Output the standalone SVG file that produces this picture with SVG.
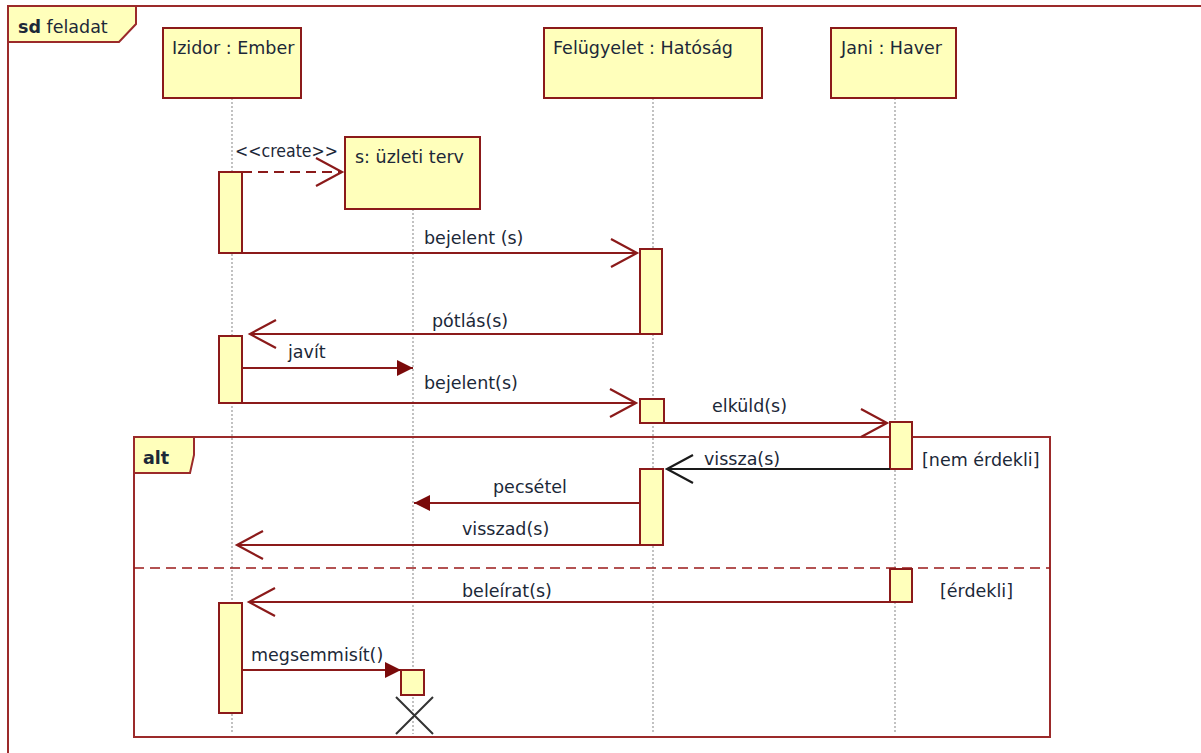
<svg xmlns="http://www.w3.org/2000/svg" width="1201" height="753" viewBox="0 0 1201 753">
<defs>
<style>
text{font-family:"DejaVu Sans","Liberation Sans",sans-serif;font-size:17.5px;fill:#1c2838}
.box{fill:#ffffbb;stroke:#8b1a1a;stroke-width:2}
.act{fill:#ffffbb;stroke:#8b1a1a;stroke-width:2}
.life{stroke:#999;stroke-width:1.2;stroke-dasharray:2,2;fill:none}
.msg{stroke:#8b1a1a;stroke-width:2;fill:none}
.frame{stroke:#9b2a2a;stroke-width:2;fill:none}
</style>
<marker id="open" viewBox="0 0 30 30" refX="27" refY="15" markerWidth="30" markerHeight="30" markerUnits="userSpaceOnUse" orient="auto">
<path d="M1,1 L27,15 L1,29" fill="none" stroke="#8b1a1a" stroke-width="2.2"/>
</marker>
<marker id="openk" viewBox="0 0 30 30" refX="27" refY="15" markerWidth="30" markerHeight="30" markerUnits="userSpaceOnUse" orient="auto">
<path d="M1,1 L27,15 L1,29" fill="none" stroke="#1a1a1a" stroke-width="2.2"/>
</marker>
<marker id="fill" viewBox="0 0 16 16" refX="16" refY="8" markerWidth="16" markerHeight="16" markerUnits="userSpaceOnUse" orient="auto">
<path d="M0,0 L16,8 L0,16 Z" fill="#7a0a0a"/>
</marker>
</defs>
<rect width="1201" height="753" fill="#fff"/>

<g id="frame">
<path class="frame" d="M8,753 L8,6 L1201,6"/>
<path d="M8,6 L136,6 L136,24 L119,42 L8,42 Z" fill="#ffffbb" stroke="#9b2a2a" stroke-width="2"/>
<text x="18" y="33"><tspan font-weight="bold">sd</tspan> feladat</text>
</g>

<g id="lifelines">
<line class="life" x1="232" y1="98" x2="232" y2="734"/>
<line class="life" x1="413" y1="209" x2="413" y2="734"/>
<line class="life" x1="653" y1="98" x2="653" y2="734"/>
<line class="life" x1="895" y1="98" x2="895" y2="734"/>
</g>

<g id="alt">
<rect class="frame" x="134" y="437" width="916" height="300"/>
<path d="M134,437 L194,437 L194,455 L190,473 L134,473 Z" fill="#ffffbb" stroke="#9b2a2a" stroke-width="2"/>
<text x="143" y="464" font-weight="bold">alt</text>
<line x1="134" y1="568" x2="1050" y2="568" stroke="#9b1a1a" stroke-width="1.6" stroke-dasharray="10,6"/>
<text x="922" y="466">[nem érdekli]</text>
<text x="940" y="597">[érdekli]</text>
</g>

<g id="izidor">
<rect class="box" x="163" y="28" width="138" height="70"/>
<text x="172" y="54">Izidor : Ember</text>
</g>
<g id="felugyelet">
<rect class="box" x="544" y="28" width="218" height="70"/>
<text x="553" y="54">Felügyelet : Hatóság</text>
</g>
<g id="jani">
<rect class="box" x="831" y="28" width="125" height="70"/>
<text x="841" y="54">Jani : Haver</text>
</g>
<g id="terv">
<rect class="box" x="345" y="137" width="135" height="72"/>
<text x="355" y="163">s: üzleti terv</text>
</g>

<g id="activations">
<rect class="act" x="219" y="172" width="23" height="81"/>
<rect class="act" x="640" y="249" width="22" height="85"/>
<rect class="act" x="219" y="336" width="23" height="67"/>
<rect class="act" x="640" y="399" width="24" height="24"/>
<rect class="act" x="890" y="422" width="22" height="47"/>
<rect class="act" x="640" y="469" width="23" height="76"/>
<rect class="act" x="890" y="569" width="22" height="33"/>
<rect class="act" x="219" y="603" width="23" height="110"/>
<rect class="act" x="401" y="670" width="23" height="25"/>
</g>

<g id="destroy">
<path d="M396,697 L433,734 M433,697 L396,734" stroke="#333" stroke-width="2"/>
</g>

<g id="connectors">
<line class="msg" x1="242" y1="172" x2="342" y2="172" stroke-dasharray="10,6" marker-end="url(#open)"/>
<text x="235" y="157" textLength="103" lengthAdjust="spacingAndGlyphs">&lt;&lt;create&gt;&gt;</text>

<line class="msg" x1="242" y1="253" x2="637" y2="253" marker-end="url(#open)"/>
<text x="424" y="244">bejelent (s)</text>

<line class="msg" x1="640" y1="334" x2="250" y2="334" marker-end="url(#open)"/>
<text x="432" y="327">pótlás(s)</text>

<line class="msg" x1="242" y1="368" x2="413" y2="368" marker-end="url(#fill)"/>
<text x="288" y="358">javít</text>

<line class="msg" x1="242" y1="403" x2="636" y2="403" marker-end="url(#open)"/>
<text x="424" y="389">bejelent(s)</text>

<line class="msg" x1="664" y1="423" x2="887" y2="423" marker-end="url(#open)"/>
<text x="712" y="412">elküld(s)</text>

<line x1="890" y1="469" x2="667" y2="469" stroke="#1a1a1a" stroke-width="2" marker-end="url(#openk)"/>
<text x="704" y="465">vissza(s)</text>

<line class="msg" x1="640" y1="503" x2="414" y2="503" marker-end="url(#fill)"/>
<text x="493" y="493">pecsétel</text>

<line class="msg" x1="640" y1="545" x2="237" y2="545" marker-end="url(#open)"/>
<text x="462" y="535">visszad(s)</text>

<line class="msg" x1="890" y1="602" x2="249" y2="602" marker-end="url(#open)"/>
<text x="462" y="597">beleírat(s)</text>

<line class="msg" x1="242" y1="670" x2="401" y2="670" marker-end="url(#fill)"/>
<text x="251" y="661">megsemmisít()</text>
</g>
</svg>
